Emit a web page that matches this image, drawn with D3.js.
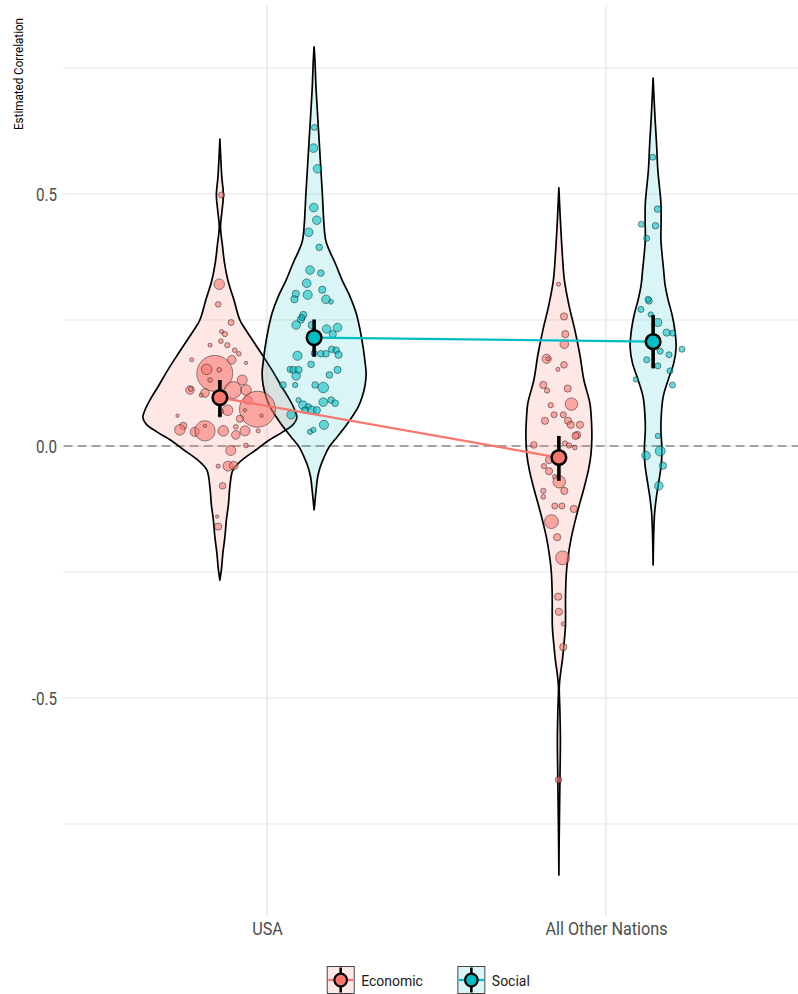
<!DOCTYPE html>
<html>
<head>
<meta charset="utf-8">
<script src="https://cdn.jsdelivr.net/npm/d3@7"></script>
<style>
  body { margin: 0; background: #fff; }
  svg { display: block; }
  text { font-family: Roboto, "Noto Sans", sans-serif; }
</style>
</head>
<body>
<svg id="chart" width="798" height="994"></svg>
<script>
// ---- data ----
const regions = ["USA", "All Other Nations"];
const domains = ["Economic", "Social"];
const yTicks = [-0.5, 0, 0.5];
const yMinor = [-0.75, -0.25, 0.25, 0.75];

// study estimates: [correlation, horizontal jitter (% of category step), sample size]
const usaEconomic = [
  [0.498, 0.5, 73], [0.321, -0.2, 250], [0.281, -0.5, 63], [0.245, 3.3, 73], [0.227, 0.5, 29],
  [0.222, 1.5, 53], [0.208, 0.3, 40], [0.200, 2.2, 53], [0.200, -2.9, 29], [0.190, 4.4, 40],
  [0.183, 5.6, 40], [0.171, -8.3, 29], [0.171, 3.5, 160], [0.165, 7.7, 17], [0.144, -1.5, 3240],
  [0.152, -3.9, 250], [0.151, -0.2, 40], [0.131, -2.9, 40], [0.131, 6.6, 221], [0.111, -8.8, 160],
  [0.113, -8.6, 40], [0.105, -4.4, 160], [0.101, -5.5, 29], [0.111, 3.9, 689], [0.111, 7.7, 250],
  [0.091, 8.3, 160], [0.073, 11.1, 3240], [0.071, 7.4, 17], [0.060, 12.3, 17], [0.071, 2.3, 250],
  [0.068, 0.5, 29], [0.060, -12.5, 17], [0.060, 0, 17], [0.040, -10.8, 109], [0.032, -11.8, 250],
  [0.028, -7.4, 185], [0.030, -4.4, 1000], [0.040, -4.4, 17], [0.030, 1.0, 250], [0.054, 5.9, 109],
  [0.038, 4.7, 40], [0.030, 7.4, 221], [0.022, 4.7, 160], [0.030, 11.3, 29], [0.001, 7.7, 40],
  [-0.009, 3.2, 221], [-0.040, 2.4, 221], [-0.039, 4.1, 160], [-0.040, -0.5, 29], [-0.079, 0.8, 90],
  [-0.140, -0.8, 17], [-0.160, -0.5, 109]
];
const usaSocial = [
  [0.632, 0.1, 73], [0.591, -0.2, 160], [0.550, 1.0, 160], [0.473, -0.1, 160], [0.448, 0.8, 160],
  [0.424, -1.6, 160], [0.394, 1.5, 90], [0.349, -1.2, 160], [0.343, 2.0, 90], [0.323, -2.2, 160],
  [0.302, -5.4, 109], [0.300, -1.9, 185], [0.310, 2.4, 109], [0.291, -5.8, 109], [0.291, 3.5, 160],
  [0.286, 5.0, 40], [0.260, -3.2, 109], [0.251, -3.9, 109], [0.255, -3.6, 73], [0.240, -5.3, 160],
  [0.240, -0.7, 109], [0.232, 3.7, 160], [0.235, 6.9, 160], [0.222, 5.5, 109], [0.184, 0, 73],
  [0.183, 2.0, 90], [0.183, 3.5, 90], [0.192, 5.2, 90], [0.190, 6.5, 90], [0.181, 7.2, 109],
  [0.179, -4.9, 185], [0.162, -0.9, 90], [0.152, -7.1, 73], [0.151, -6.1, 109], [0.151, -4.6, 109],
  [0.139, -5.3, 160], [0.151, 6.9, 109], [0.141, 4.5, 90], [0.121, -5.6, 53], [0.121, 0.3, 90],
  [0.116, 2.7, 250], [0.121, -9.2, 90], [0.091, -4.6, 53], [0.091, 5.0, 90], [0.085, 6.2, 90],
  [0.081, -3.3, 160], [0.078, -1.7, 73], [0.071, -0.7, 160], [0.071, 0.8, 109], [0.087, 2.7, 160],
  [0.071, -2.7, 90], [0.062, -6.8, 160], [0.042, 2.9, 185], [0.028, -1.2, 53], [0.032, -0.2, 53]
];
const otherEconomic = [
  [0.321, -0.1, 29], [0.257, 1.5, 109], [0.222, 1.9, 109], [0.202, 1.6, 160], [0.173, -3.6, 185],
  [0.173, -3.2, 29], [0.161, 1.5, 90], [0.152, -0.3, 29], [0.121, -4.6, 109], [0.110, -3.5, 53],
  [0.114, 2.6, 109], [0.081, -2.4, 53], [0.083, 3.7, 360], [0.062, -1.4, 73], [0.062, 1.3, 73],
  [0.050, -4.1, 109], [0.050, 2.7, 109], [0.042, 3.5, 109], [0.042, 6.2, 109], [0.022, 5.4, 109],
  [0.020, 4.9, 109], [0.002, -7.4, 90], [0.005, 1.8, 53], [0.001, 3.0, 53], [-0.003, 4.7, 40],
  [-0.028, -2.9, 109], [-0.040, -4.4, 53], [-0.050, -2.9, 109], [-0.061, -1.2, 40], [-0.071, 0.1, 360],
  [-0.089, 1.6, 109], [-0.089, -4.6, 53], [-0.101, -4.6, 40], [-0.119, -1.2, 73], [-0.119, 0.9, 73],
  [-0.125, 4.4, 109], [-0.150, -2.2, 449], [-0.181, -0.5, 109], [-0.222, 1.1, 449], [-0.299, -0.2, 109],
  [-0.329, 0, 109], [-0.353, 1.3, 29], [-0.399, 1.3, 109], [-0.662, -0.1, 90]
];
const otherSocial = [
  [0.573, -0.1, 73], [0.470, 1.3, 90], [0.440, -3.5, 73], [0.437, 0.7, 90], [0.412, -1.9, 73],
  [0.288, -1.2, 90], [0.291, -1.5, 73], [0.271, -3.6, 73], [0.261, -0.7, 53], [0.245, 1.4, 137],
  [0.225, 4.0, 109], [0.224, 5.8, 73], [0.192, 8.5, 73], [0.188, 2.1, 73], [0.181, 4.7, 73],
  [0.171, -1.9, 73], [0.159, 1.4, 73], [0.149, 5.0, 73], [0.132, -5.1, 53], [0.121, 5.7, 73],
  [0.020, 1.4, 53], [-0.010, 2.1, 221], [-0.019, -2.1, 160], [-0.039, 2.9, 109], [-0.079, 1.7, 160]
];

// kernel density profiles: [correlation, density]
const usaEconomicDensity = [
  [0.609, 0], [0.567, 0.05], [0.532, 0.1], [0.498, 0.175], [0.464, 0.1], [0.435, 0.03],
  [0.399, 0.125], [0.365, 0.225], [0.329, 0.4], [0.290, 0.7], [0.250, 1.0], [0.230, 1.3],
  [0.185, 2.05], [0.151, 2.6], [0.117, 3.1], [0.091, 3.5], [0.071, 3.75], [0.056, 3.85],
  [0.042, 3.65], [0.028, 3.15], [0.010, 2.4], [-0.008, 1.8], [-0.028, 1.1], [-0.048, 0.65],
  [-0.081, 0.5], [-0.117, 0.425], [-0.147, 0.325], [-0.181, 0.25], [-0.212, 0.15],
  [-0.246, 0.075], [-0.266, 0]
];
const usaSocialDensity = [
  [0.792, 0], [0.766, 0.04], [0.706, 0.1], [0.607, 0.25], [0.508, 0.4], [0.409, 0.575],
  [0.389, 0.75], [0.363, 1.05], [0.329, 1.4], [0.296, 1.8], [0.264, 2.1], [0.230, 2.3],
  [0.196, 2.45], [0.165, 2.55], [0.145, 2.6], [0.121, 2.55], [0.097, 2.4], [0.077, 2.2],
  [0.058, 1.9], [0.038, 1.55], [0.018, 1.15], [-0.002, 0.75], [-0.022, 0.5], [-0.042, 0.3],
  [-0.062, 0.175], [-0.087, 0.1], [-0.127, 0]
];
const otherEconomicDensity = [
  [0.512, 0], [0.468, 0.05], [0.429, 0.1], [0.379, 0.175], [0.329, 0.275], [0.280, 0.5],
  [0.230, 0.8], [0.181, 1.05], [0.131, 1.25], [0.085, 1.55], [0.052, 1.625], [0.018, 1.65],
  [-0.018, 1.6], [-0.048, 1.475], [-0.081, 1.275], [-0.113, 1.05], [-0.147, 0.825],
  [-0.181, 0.625], [-0.216, 0.475], [-0.246, 0.385], [-0.292, 0.335], [-0.359, 0.325],
  [-0.395, 0.25], [-0.425, 0.175], [-0.454, 0.075], [-0.478, 0.02], [-0.524, 0.05],
  [-0.583, 0.075], [-0.643, 0.06], [-0.702, 0.04], [-0.782, 0.015], [-0.851, 0]
];
const otherSocialDensity = [
  [0.730, 0], [0.687, 0.05], [0.647, 0.1], [0.597, 0.175], [0.548, 0.235], [0.482, 0.39],
  [0.448, 0.4], [0.409, 0.39], [0.379, 0.45], [0.349, 0.525], [0.319, 0.6], [0.290, 0.75],
  [0.260, 0.95], [0.230, 1.085], [0.196, 1.15], [0.165, 1.035], [0.131, 0.75], [0.097, 0.5],
  [0.065, 0.415], [0.032, 0.39], [-0.002, 0.435], [-0.034, 0.415], [-0.067, 0.3],
  [-0.101, 0.165], [-0.133, 0.075], [-0.167, 0.035], [-0.200, 0.015], [-0.236, 0]
];

// pooled estimates with 95% intervals, one entry per region
const economicMean = [0.096, -0.023];
const economicLow = [0.058, -0.069];
const economicHigh = [0.131, 0.020];
const socialMean = [0.215, 0.207];
const socialLow = [0.177, 0.154];
const socialHigh = [0.251, 0.260];

// ---- assemble groups ----
const groups = [
  { region: "USA", domain: "Economic", studies: usaEconomic, density: usaEconomicDensity },
  { region: "USA", domain: "Social", studies: usaSocial, density: usaSocialDensity },
  { region: "All Other Nations", domain: "Economic", studies: otherEconomic, density: otherEconomicDensity },
  { region: "All Other Nations", domain: "Social", studies: otherSocial, density: otherSocialDensity }
];
const summaries = {
  Economic: regions.map((r, i) => ({ region: r, mean: economicMean[i], low: economicLow[i], high: economicHigh[i] })),
  Social: regions.map((r, i) => ({ region: r, mean: socialMean[i], low: socialLow[i], high: socialHigh[i] }))
};

// ---- layout ----
const W = 798, H = 994;
const panel = { left: 63.6, right: 809.4, top: 5.5, bottom: 916.2 };
const colors = { Economic: "#F8766D", Social: "#00BFC4" };

const svg = d3.select("#chart");
svg.append("rect").attr("width", W).attr("height", H).attr("fill", "#fff");

const x = d3.scalePoint().domain(regions).range([panel.left, panel.right]).padding(0.6);
const step = x.step();
const y = d3.scaleLinear().domain([-0.933, 0.874]).range([panel.bottom, panel.top]);
const radius = d3.scaleSqrt().domain([0, 3240]).range([0.4, 18]);
const width = d3.scaleLinear().domain([0, 1]).range([0, 20]);
const dodge = 0.139;
const cx = (region, domain) => x(region) + (domain === "Economic" ? -1 : 1) * dodge * step;

function condense(sel, f) {
  sel.each(function () {
    const L = this.getComputedTextLength();
    d3.select(this).attr("textLength", L * f).attr("lengthAdjust", "spacingAndGlyphs");
  });
}

// ---- grid ----
const grid = svg.append("g");
grid.selectAll("line.h").data(yMinor.concat(yTicks)).join("line")
  .attr("x1", panel.left).attr("x2", W)
  .attr("y1", d => y(d)).attr("y2", d => y(d))
  .attr("stroke", "#e6e6e6").attr("stroke-width", d => yTicks.includes(d) ? 1.1 : 0.9);
grid.selectAll("line.v").data(regions).join("line")
  .attr("x1", d => x(d)).attr("x2", d => x(d))
  .attr("y1", panel.top).attr("y2", panel.bottom)
  .attr("stroke", "#e0e0e0").attr("stroke-width", 1.1);

// reference line at zero
svg.append("line")
  .attr("x1", panel.left).attr("x2", W).attr("y1", y(0)).attr("y2", y(0))
  .attr("stroke", "#8a8a8a").attr("stroke-width", 1.3).attr("stroke-dasharray", "9,5");

// ---- violins ----
const violins = svg.append("g");
groups.forEach(g => {
  const c = cx(g.region, g.domain);
  const area = d3.area()
    .curve(d3.curveCatmullRom.alpha(0.5))
    .y(d => y(d[0]))
    .x0(d => c - width(d[1]))
    .x1(d => c + width(d[1]));
  violins.append("path")
    .attr("d", area(g.density))
    .attr("fill", colors[g.domain]).attr("fill-opacity", g.domain === "Economic" ? 0.17 : 0.15)
    .attr("stroke", "#000").attr("stroke-width", 1.7).attr("stroke-linejoin", "round");
});

// ---- study points ----
const pts = svg.append("g");
groups.forEach(g => {
  const c = cx(g.region, g.domain);
  pts.selectAll(null).data(g.studies).join("circle")
    .attr("cx", d => c + d[1] / 100 * step)
    .attr("cy", d => y(d[0]))
    .attr("r", d => radius(d[2]))
    .attr("fill", colors[g.domain]).attr("fill-opacity", 0.58)
    .attr("stroke", "#000").attr("stroke-opacity", 0.5).attr("stroke-width", 0.85);
});

// ---- pooled estimates ----
const pooled = svg.append("g");
domains.forEach(dom => {
  const line = d3.line().x(d => cx(d.region, dom)).y(d => y(d.mean));
  pooled.append("path").attr("d", line(summaries[dom]))
    .attr("fill", "none").attr("stroke", colors[dom]).attr("stroke-width", 2.3);
});
domains.forEach(dom => {
  pooled.selectAll(null).data(summaries[dom]).join("line")
    .attr("x1", d => cx(d.region, dom)).attr("x2", d => cx(d.region, dom))
    .attr("y1", d => y(d.low)).attr("y2", d => y(d.high))
    .attr("stroke", "#000").attr("stroke-width", 3.6);
  pooled.selectAll(null).data(summaries[dom]).join("circle")
    .attr("cx", d => cx(d.region, dom)).attr("cy", d => y(d.mean)).attr("r", 7.3)
    .attr("fill", colors[dom]).attr("stroke", "#000").attr("stroke-width", 2.5);
});

// ---- axes ----
const yAxis = svg.append("g").attr("transform", `translate(${panel.left},0)`)
  .call(d3.axisLeft(y).tickValues(yTicks).tickFormat(d => d.toFixed(1)).tickSize(0).tickPadding(6.5));
yAxis.select(".domain").remove();
yAxis.selectAll("text").attr("fill", "#4d4d4d").style("font-size", "17.5px")
  .attr("dy", "0.36em").call(condense, 0.87);

const xAxis = svg.append("g").attr("transform", `translate(0,935)`)
  .call(d3.axisBottom(x).tickSize(0).tickPadding(0));
xAxis.select(".domain").remove();
xAxis.selectAll("text").attr("fill", "#4d4d4d").style("font-size", "18px")
  .attr("y", 0).attr("dy", 0).call(condense, 0.9);

svg.append("text")
  .attr("transform", `translate(22.5,18) rotate(-90)`)
  .attr("text-anchor", "end").attr("fill", "#000").style("font-size", "13.5px")
  .text("Estimated Correlation").call(condense, 0.86);

// ---- legend ----
const legend = svg.append("g");
const key = 27, keyGap = 7, itemGap = 35;
let lx = 0;
domains.forEach(dom => {
  const g = legend.append("g").attr("transform", `translate(${lx},0)`);
  g.append("rect").attr("x", 0).attr("y", -key / 2).attr("width", key).attr("height", key)
    .attr("fill", colors[dom]).attr("fill-opacity", dom === "Economic" ? 0.17 : 0.15)
    .attr("stroke", "#333").attr("stroke-width", 0.9);
  g.append("line").attr("x1", 1).attr("x2", key - 1).attr("y1", 0).attr("y2", 0)
    .attr("stroke", colors[dom]).attr("stroke-width", 2.3);
  g.append("line").attr("x1", key / 2).attr("x2", key / 2).attr("y1", -key / 2 + 1).attr("y2", key / 2 - 1)
    .attr("stroke", "#000").attr("stroke-width", 2.6);
  g.append("circle").attr("cx", key / 2).attr("cy", 0).attr("r", 6.3)
    .attr("fill", colors[dom]).attr("stroke", "#000").attr("stroke-width", 2.2);
  const t = g.append("text").attr("x", key + keyGap).attr("y", 0).attr("dy", "0.36em")
    .attr("fill", "#1a1a1a").style("font-size", "15.5px").text(dom).call(condense, 0.9);
  lx += key + keyGap + t.node().getComputedTextLength() + itemGap;
});
const legendWidth = lx - itemGap;
legend.attr("transform", `translate(${(panel.left + panel.right) / 2 - legendWidth / 2 - 8},980)`);
</script>
</body>
</html>
